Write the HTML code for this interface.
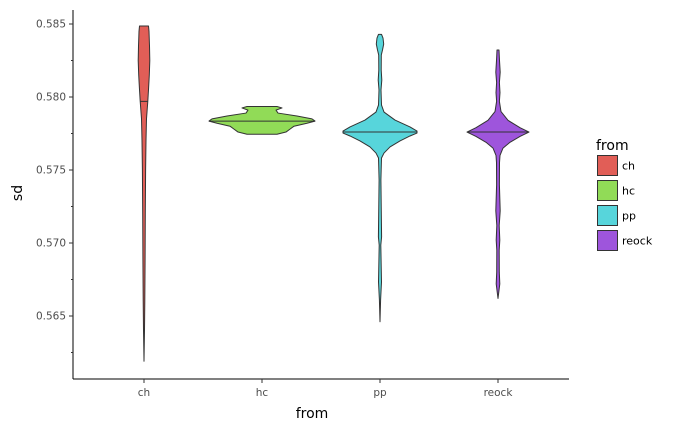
<!DOCTYPE html>
<html><head><meta charset="utf-8"><style>
body{margin:0;background:#fff}
svg{display:block;font-family:"DejaVu Sans","Liberation Sans",sans-serif}
</style></head><body>
<svg id="chart" width="683" height="430" viewBox="0 0 683 430">
<rect width="683" height="430" fill="#fff"/>
<g id="violins"></g>
<g id="axes"></g>
<g id="legend"></g>
</svg>
<script>
const categories = ["ch","hc","pp","reock"];
const colors = ["#e15e57","#91db57","#57d5db","#9e55dc"];
const yTicks = [0.565,0.570,0.575,0.580,0.585];
const yMinorTicks = [0.5625,0.5675,0.5725,0.5775,0.5825];
const medians = [0.5797,0.57835,0.5776,0.5776];
// violin profiles: values and relative half-widths (density)
const chValues = [0.58486,0.5845,0.5835,0.5825,0.5815,0.5805,0.5797,0.5785,0.577,0.575,0.572,0.569,0.566,0.564,0.5619];
const chDensity = [4.5,5,5.5,5.8,5.3,4.5,3.8,2.5,2,1.6,1.3,1.1,0.8,0.5,0];
const hcValues = [0.57935,0.57925,0.5791,0.5789,0.5787,0.5785,0.57835,0.5782,0.578,0.5778,0.5776,0.57745];
const hcDensity = [15,20,14,16,35,50,53,45,32,28,24,15];
const ppValues = [0.58429,0.58404,0.58363,0.58322,0.58288,0.58185,0.58116,0.58048,0.57945,0.57897,0.57842,0.57795,0.57767,0.57753,0.57733,0.57699,0.57658,0.57616,0.57582,0.57432,0.57041,0.56986,0.56733,0.5661,0.56461];
const ppDensity = [1.5,3,3.7,2.5,1.3,1.2,1.8,1,1.5,4,15,30,37,37,30,20,10,4,1.5,0.9,1.6,0.8,1.5,0.6,0];
const reockValues = [0.58322,0.5825,0.5817,0.581,0.5803,0.5797,0.579,0.5784,0.5779,0.5776,0.5773,0.5769,0.5765,0.576,0.5755,0.574,0.5722,0.5712,0.5702,0.5695,0.568,0.5672,0.5662];
const reockDensity = [1,1.5,2.2,1.4,2,1.4,3,10,22,31,22,12,5,2,1.5,1.4,2.2,1.2,1.8,1.2,1.3,1.8,0];
const profiles = [[chValues,chDensity],[hcValues,hcDensity],[ppValues,ppDensity],[reockValues,reockDensity]];

const NS = "http://www.w3.org/2000/svg";
const plot = {l:73, r:569, t:10, b:379};
function yScale(v){ return 24 + (0.585 - v) * 14600; }
function xScale(i){ return 144 + 118 * i; }
function wScale(d){ return d; }
function mk(tag, attrs, parent){ const e=document.createElementNS(NS,tag); for(const k in attrs) e.setAttribute(k,attrs[k]); parent.appendChild(e); return e; }

const gv = document.getElementById('violins');
profiles.forEach((p,i)=>{
  const [vals,dens]=p; const cx=xScale(i);
  let right=[],left=[];
  vals.forEach((v,j)=>{ right.push([cx+wScale(dens[j]), yScale(v)]); });
  for(let j=vals.length-1;j>=0;j--) left.push([cx-wScale(dens[j]), yScale(vals[j])]);
  const pts=right.concat(left);
  const d="M"+pts.map(q=>q[0].toFixed(2)+","+q[1].toFixed(2)).join("L")+"Z";
  const path=mk('path',{d:d,fill:colors[i],stroke:"#333",'stroke-width':1,'stroke-linejoin':'round'},gv);
  
  
  const m=medians[i]; let w=0;
  for(let j=0;j<vals.length-1;j++){ const a=vals[j],b=vals[j+1]; if((m<=a&&m>=b)){ const t=(a-m)/(a-b||1); w=dens[j]+(dens[j+1]-dens[j])*t; break; } }
  const ml=mk('line',{x1:cx-wScale(w),x2:cx+wScale(w),y1:yScale(m),y2:yScale(m),stroke:"#333",'stroke-width':1},gv);
  
  
});

const ga = document.getElementById('axes');
mk('line',{x1:plot.l,x2:plot.l,y1:plot.t,y2:plot.b,stroke:"#000",'stroke-width':1},ga);
mk('line',{x1:plot.l,x2:plot.r,y1:plot.b,y2:plot.b,stroke:"#000",'stroke-width':1},ga);
yTicks.forEach(t=>{
  const y=yScale(t);
  mk('line',{x1:plot.l-4,x2:plot.l,y1:y,y2:y,stroke:"#333"},ga);
  const tx=mk('text',{x:plot.l-7,y:y+3.5,'text-anchor':'end','font-size':10.5,fill:'#4d4d4d'},ga);
  tx.textContent=t.toFixed(3);
  
  
});
yMinorTicks.forEach(t=>{ const y=yScale(t); mk('line',{x1:plot.l-2,x2:plot.l,y1:y,y2:y,stroke:"#333"},ga); });
categories.forEach((c,i)=>{
  const x=xScale(i);
  mk('line',{x1:x,x2:x,y1:plot.b,y2:plot.b+4,stroke:"#333"},ga);
  const tx=mk('text',{x:x,y:396,'text-anchor':'middle','font-size':10.5,fill:'#4d4d4d'},ga);
  tx.textContent=c;
  
  
});
const xt=mk('text',{x:312,y:418,'text-anchor':'middle','font-size':14,fill:'#000'},ga);
xt.textContent='from';


const yt=mk('text',{x:22,y:193,'text-anchor':'middle','font-size':14,fill:'#000',transform:'rotate(-90 22 193)'},ga);
yt.textContent='sd';



const gl = document.getElementById('legend');
const lt=mk('text',{x:596,y:150,'font-size':14,fill:'#000'},gl);
lt.textContent='from';


categories.forEach((c,i)=>{
  const y=155+i*25;
  const r=mk('rect',{x:597.5,y:y+0.5,width:20,height:20,fill:colors[i],stroke:'#333','stroke-width':1},gl);
  
  
  const t=mk('text',{x:622,y:y+14.5,'font-size':11,fill:'#000'},gl);
  t.textContent=c;
  
  
});
</script>
</body></html>
